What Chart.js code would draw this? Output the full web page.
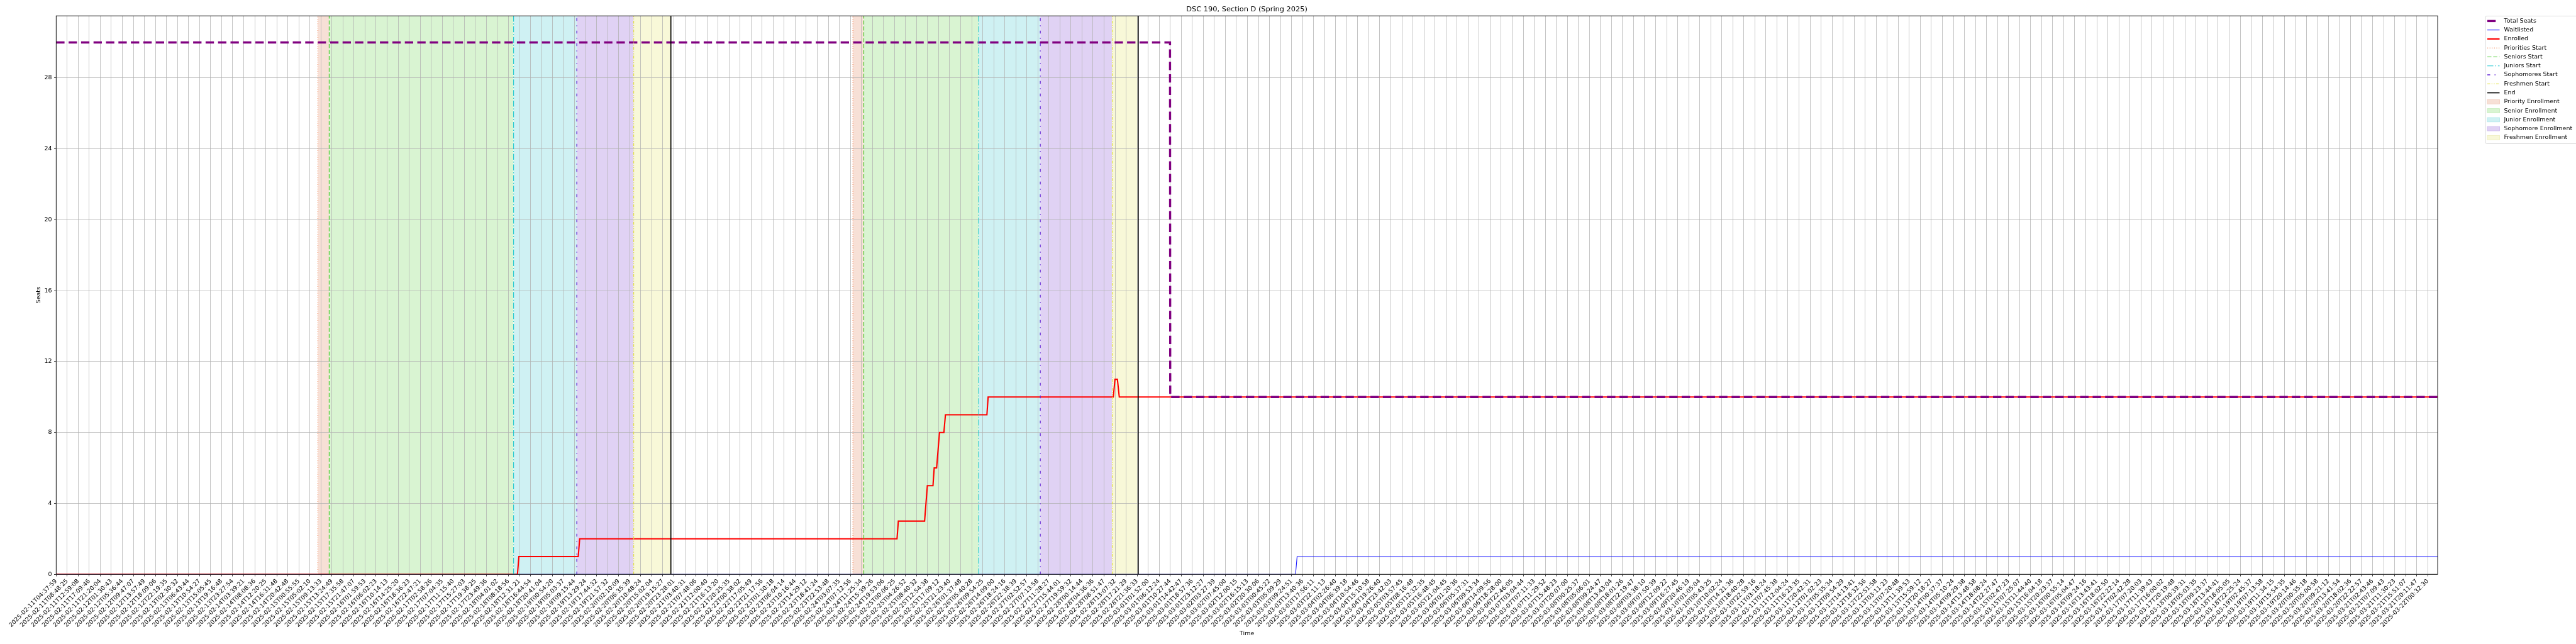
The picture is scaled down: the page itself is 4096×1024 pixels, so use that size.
<!DOCTYPE html>
<html>
<head>
<meta charset="utf-8">
<title>DSC 190, Section D (Spring 2025)</title>
<script src="https://cdn.jsdelivr.net/npm/chart.js@4.4.1/dist/chart.umd.min.js"></script>
<style>
  html, body { margin: 0; padding: 0; background: #fff; }
  #wrap { width: 4096px; height: 1024px; }
</style>
</head>
<body>
<div id="wrap"><canvas id="seatChart" width="4096" height="1024"></canvas></div>
<script>
// ------------------------------------------------------- //
// Data (x = position on the sample index, 1 unit = 1 tick)
// ------------------------------------------------------ //
var tickLabels = [
  "2025-02-11T04:37:59", "2025-02-11T08:48:25", "2025-02-11T12:59:08", "2025-02-11T17:09:46", "2025-02-11T21:20:04", "2025-02-12T01:30:43",
  "2025-02-12T05:36:44", "2025-02-12T09:47:07", "2025-02-12T13:57:49", "2025-02-12T18:09:06", "2025-02-12T22:19:35", "2025-02-13T02:30:32",
  "2025-02-13T06:43:44", "2025-02-13T10:54:27", "2025-02-13T15:05:45", "2025-02-13T19:16:48", "2025-02-13T23:27:54", "2025-02-14T03:39:21",
  "2025-02-14T08:08:36", "2025-02-14T12:20:25", "2025-02-14T16:31:48", "2025-02-14T20:42:48", "2025-02-15T00:55:55", "2025-02-15T05:02:10",
  "2025-02-15T09:13:33", "2025-02-15T13:24:49", "2025-02-15T17:35:58", "2025-02-15T21:47:07", "2025-02-16T01:59:53", "2025-02-16T06:02:23",
  "2025-02-16T10:14:13", "2025-02-16T14:25:20", "2025-02-16T18:36:23", "2025-02-16T22:47:21", "2025-02-17T02:58:26", "2025-02-17T07:04:35",
  "2025-02-17T11:15:40", "2025-02-17T15:27:03", "2025-02-17T19:38:25", "2025-02-17T23:49:36", "2025-02-18T04:01:02", "2025-02-18T08:18:56",
  "2025-02-18T12:31:21", "2025-02-18T16:44:54", "2025-02-18T20:41:04", "2025-02-19T00:54:20", "2025-02-19T05:03:37", "2025-02-19T09:15:44",
  "2025-02-19T13:29:24", "2025-02-19T17:44:32", "2025-02-19T21:57:32", "2025-02-20T02:10:09", "2025-02-20T06:35:39", "2025-02-20T10:48:24",
  "2025-02-20T15:02:04", "2025-02-20T19:15:27", "2025-02-20T23:28:01", "2025-02-21T03:40:31", "2025-02-21T07:48:06", "2025-02-21T12:00:40",
  "2025-02-21T16:13:20", "2025-02-21T20:25:35", "2025-02-22T00:38:02", "2025-02-22T17:05:49", "2025-02-22T21:17:56", "2025-02-23T01:30:18",
  "2025-02-23T06:04:14", "2025-02-23T10:16:44", "2025-02-23T14:29:12", "2025-02-23T18:41:24", "2025-02-23T22:53:48", "2025-02-24T03:07:35",
  "2025-02-24T07:12:56", "2025-02-24T11:25:34", "2025-02-24T15:39:26", "2025-02-24T19:53:06", "2025-02-25T00:06:25", "2025-02-25T04:26:52",
  "2025-02-25T08:40:32", "2025-02-25T12:54:38", "2025-02-25T17:09:12", "2025-02-25T21:23:40", "2025-02-26T01:37:48", "2025-02-26T05:40:28",
  "2025-02-26T09:54:25", "2025-02-26T14:09:00", "2025-02-26T18:24:16", "2025-02-26T22:38:39", "2025-02-27T02:52:57", "2025-02-27T07:13:58",
  "2025-02-27T11:28:27", "2025-02-27T15:44:01", "2025-02-27T19:59:32", "2025-02-28T00:14:44", "2025-02-28T04:36:36", "2025-02-28T08:51:47",
  "2025-02-28T13:07:32", "2025-02-28T17:21:29", "2025-02-28T21:36:33", "2025-03-01T01:52:00", "2025-03-01T06:12:24", "2025-03-01T10:27:44",
  "2025-03-01T14:42:47", "2025-03-01T18:57:36", "2025-03-01T23:12:27", "2025-03-02T03:27:39", "2025-03-02T07:45:00", "2025-03-02T12:00:15",
  "2025-03-02T16:15:13", "2025-03-02T20:30:06", "2025-03-03T00:45:22", "2025-03-03T05:09:29", "2025-03-03T09:24:51", "2025-03-03T13:40:36",
  "2025-03-03T17:56:11", "2025-03-03T22:11:13", "2025-03-04T02:26:40", "2025-03-04T06:39:18", "2025-03-04T10:54:46", "2025-03-04T15:10:58",
  "2025-03-04T19:26:40", "2025-03-04T23:42:03", "2025-03-05T03:57:45", "2025-03-05T08:16:48", "2025-03-05T12:32:35", "2025-03-05T16:48:45",
  "2025-03-05T21:04:45", "2025-03-06T01:20:36", "2025-03-06T05:37:31", "2025-03-06T09:53:34", "2025-03-06T14:09:56", "2025-03-06T18:28:00",
  "2025-03-06T22:46:05", "2025-03-07T03:04:44", "2025-03-07T07:11:33", "2025-03-07T11:29:52", "2025-03-07T15:48:23", "2025-03-07T20:07:00",
  "2025-03-08T00:25:37", "2025-03-08T05:06:01", "2025-03-08T09:24:47", "2025-03-08T13:43:04", "2025-03-08T18:01:26", "2025-03-08T22:19:47",
  "2025-03-09T03:38:10", "2025-03-09T07:50:39", "2025-03-09T12:09:22", "2025-03-09T16:27:45", "2025-03-09T20:46:19", "2025-03-10T01:05:04",
  "2025-03-10T05:43:25", "2025-03-10T10:02:24", "2025-03-10T14:21:36", "2025-03-10T18:40:28", "2025-03-10T22:59:16", "2025-03-11T03:18:24",
  "2025-03-11T07:45:38", "2025-03-11T12:04:24", "2025-03-11T16:23:35", "2025-03-11T20:42:31", "2025-03-12T01:02:23", "2025-03-12T05:35:34",
  "2025-03-12T09:54:29", "2025-03-12T14:13:41", "2025-03-12T18:32:56", "2025-03-12T22:51:58", "2025-03-13T03:11:23", "2025-03-13T07:20:48",
  "2025-03-13T11:39:53", "2025-03-13T15:59:12", "2025-03-13T20:18:27", "2025-03-14T00:37:37", "2025-03-14T05:10:24", "2025-03-14T09:29:38",
  "2025-03-14T13:48:58", "2025-03-14T18:08:24", "2025-03-14T22:27:47", "2025-03-15T02:47:23", "2025-03-15T07:25:07", "2025-03-15T11:44:40",
  "2025-03-15T16:04:18", "2025-03-15T20:23:37", "2025-03-16T00:55:14", "2025-03-16T05:04:47", "2025-03-16T09:24:16", "2025-03-16T13:43:41",
  "2025-03-16T18:02:50", "2025-03-16T22:22:14", "2025-03-17T02:42:28", "2025-03-17T07:20:03", "2025-03-17T11:39:43", "2025-03-17T16:00:02",
  "2025-03-17T20:19:48", "2025-03-18T00:39:31", "2025-03-18T05:03:35", "2025-03-18T09:23:37", "2025-03-18T13:44:41", "2025-03-18T18:05:05",
  "2025-03-18T22:25:24", "2025-03-19T02:45:37", "2025-03-19T07:13:58", "2025-03-19T11:34:15", "2025-03-19T15:54:35", "2025-03-19T20:14:46",
  "2025-03-20T00:35:18", "2025-03-20T05:00:58", "2025-03-20T09:21:12", "2025-03-20T13:41:54", "2025-03-20T18:02:36", "2025-03-20T22:22:57",
  "2025-03-21T02:43:46", "2025-03-21T07:09:43", "2025-03-21T11:30:23", "2025-03-21T15:51:07", "2025-03-21T20:11:47", "2025-03-22T00:32:30"
];
var yTicks = [0, 4, 8, 12, 16, 20, 24, 28];
var xMax = 215.9;
var yMax = 31.5;

var seatsX = [0, 100.98, 101.0, 215.9];
var seatsY = [30, 30, 10, 10];

var waitX = [0, 112.36, 112.5, 215.9];
var waitY = [0, 0, 1, 1];

var enrolledX = [0, 41.82, 41.95, 47.33, 47.46, 76.23, 76.35, 78.73, 78.98, 79.49, 79.60, 79.82, 80.08, 80.48, 80.62, 84.38, 84.49, 95.84, 95.99, 96.21, 96.38, 215.9];
var enrolledY = [0, 0, 1, 1, 2, 2, 3, 3, 5, 5, 6, 6, 8, 8, 9, 9, 10, 10, 11, 11, 10, 10];

// enrollment windows, two passes
var priorityStart = [23.73, 72.23];
var seniorStart = [24.75, 73.22];
var juniorStart = [41.47, 83.63];
var sophomoreStart = [47.20, 89.22];
var freshmenStart = [52.36, 95.74];
var endTime = [55.73, 98.10];

// ------------------------------------------------------- //
// Styles
// ------------------------------------------------------ //
var FONT = '"DejaVu Sans", "Liberation Sans", sans-serif';
var col = {
    seats: '#800080', wait: '#1a1aff', enrolled: '#ff0000',
    priority: '#f0703a', senior: '#3cc81e', junior: '#1cc6cf', sophomore: '#6326d6', freshmen: '#e2e03a', end: '#000000',
    priorityFill: '#f7e0d6', seniorFill: '#d9f4d2', juniorFill: '#cff1f3', sophomoreFill: '#e0d2f4', freshmenFill: '#f8f8d8'
};
var dash = {
    seats: [13.3, 6.5],
    priority: [1.2, 2.4],
    senior: [6.5, 2.9],
    junior: [9.5, 2.9, 1.6, 2.9],
    sophomore: [4.5, 7, 1.5, 7],
    freshmen: [4.5, 2.2, 1.4, 2.2, 1.4, 2.2]
};

function pts(xs, ys) {
    return xs.map(function (x, i) { return {x: x, y: ys[i]}; });
}

var datasets = [];

// shaded windows (drawn by the filler before the grid)
function addSpan(starts, ends, color) {
    for (var i = 0; i < starts.length; i++) {
        datasets.push({
            data: [{x: starts[i], y: yMax}, {x: ends[i], y: yMax}],
            fill: 'origin', backgroundColor: color, borderWidth: 0, pointRadius: 0, order: 50
        });
    }
}
addSpan(priorityStart, seniorStart, col.priorityFill);
addSpan(seniorStart, juniorStart, col.seniorFill);
addSpan(juniorStart, sophomoreStart, col.juniorFill);
addSpan(sophomoreStart, freshmenStart, col.sophomoreFill);
addSpan(freshmenStart, endTime, col.freshmenFill);

datasets.push({data: pts(seatsX, seatsY), borderColor: col.seats, borderWidth: 3.4, borderDash: dash.seats, pointRadius: 0, fill: false, order: 4});
datasets.push({data: pts(waitX, waitY), borderColor: col.wait, borderWidth: 1.1, pointRadius: 0, fill: false, order: 6});
datasets.push({data: pts(enrolledX, enrolledY), borderColor: col.enrolled, borderWidth: 2.1, pointRadius: 0, fill: false, order: 5});

// vertical markers
function addMarkers(xs, color, width, d) {
    xs.forEach(function (x) {
        datasets.push({
            data: [{x: x, y: 0}, {x: x, y: yMax}],
            borderColor: color, borderWidth: width, borderDash: d || [], pointRadius: 0, fill: false, order: 2
        });
    });
}
addMarkers(priorityStart, col.priority, 1.1, dash.priority);
addMarkers(seniorStart, col.senior, 1.1, dash.senior);
addMarkers(juniorStart, col.junior, 1.1, dash.junior);
addMarkers(sophomoreStart, col.sophomore, 1.3, dash.sophomore);
addMarkers(freshmenStart, col.freshmen, 1.1, dash.freshmen);
addMarkers(endTime, col.end, 1.6, null);

var legendItems = [
    {label: 'Total Seats', color: col.seats, width: 3.4, dash: dash.seats},
    {label: 'Waitlisted', color: col.wait, width: 1.1},
    {label: 'Enrolled', color: col.enrolled, width: 2.1},
    {label: 'Priorities Start', color: col.priority, width: 1.1, dash: dash.priority},
    {label: 'Seniors Start', color: col.senior, width: 1.1, dash: dash.senior},
    {label: 'Juniors Start', color: col.junior, width: 1.1, dash: dash.junior},
    {label: 'Sophomores Start', color: col.sophomore, width: 1.3, dash: dash.sophomore},
    {label: 'Freshmen Start', color: col.freshmen, width: 1.1, dash: dash.freshmen},
    {label: 'End', color: col.end, width: 1.6},
    {label: 'Priority Enrollment', patch: col.priorityFill, edge: '#f2cdbd'},
    {label: 'Senior Enrollment', patch: col.seniorFill, edge: '#c3ecb9'},
    {label: 'Junior Enrollment', patch: col.juniorFill, edge: '#b3e8eb'},
    {label: 'Sophomore Enrollment', patch: col.sophomoreFill, edge: '#cdb9ee'},
    {label: 'Freshmen Enrollment', patch: col.freshmenFill, edge: '#eeeebd'}
];

// frame round the plot
var framePlugin = {
    id: 'frame',
    afterDatasetsDraw: function (chart) {
        var a = chart.chartArea, ctx = chart.ctx;
        ctx.save();
        ctx.strokeStyle = '#000';
        ctx.lineWidth = 0.9;
        ctx.strokeRect(a.left, a.top, a.right - a.left, a.bottom - a.top);
        ctx.restore();
    }
};

// matplotlib-like legend outside the plot
var legendPlugin = {
    id: 'sideLegend',
    afterDraw: function (chart) {
        var ctx = chart.ctx;
        var x0 = 3952, y0 = 25.5, rowH = 14.27, firstY = 33.4;
        var hx0 = 3955, hx1 = 3974.5, tx = 3981.5;
        ctx.save();
        ctx.fillStyle = 'rgba(255,255,255,0.8)';
        ctx.strokeStyle = '#d0d0d0';
        ctx.lineWidth = 0.8;
        ctx.beginPath();
        ctx.roundRect(x0, y0, 200, 203, 2.5);
        ctx.fill();
        ctx.stroke();
        ctx.font = '9.47px ' + FONT;
        ctx.textBaseline = 'middle';
        legendItems.forEach(function (it, i) {
            var y = firstY + i * rowH;
            if (it.patch) {
                ctx.setLineDash([]);
                ctx.fillStyle = it.patch;
                ctx.strokeStyle = it.edge;
                ctx.lineWidth = 0.8;
                ctx.fillRect(hx0, y - 3.4, hx1 - hx0, 6.8);
                ctx.strokeRect(hx0, y - 3.4, hx1 - hx0, 6.8);
            } else {
                ctx.strokeStyle = it.color;
                ctx.lineWidth = it.width;
                ctx.setLineDash(it.dash || []);
                ctx.beginPath();
                ctx.moveTo(hx0, y);
                ctx.lineTo(hx1, y);
                ctx.stroke();
            }
            ctx.setLineDash([]);
            ctx.fillStyle = '#000';
            ctx.fillText(it.label, tx, y);
        });
        ctx.restore();
    }
};

Chart.defaults.font.family = FONT;
Chart.defaults.font.size = 9.47;
Chart.defaults.color = '#000';

var ctx = document.getElementById('seatChart').getContext('2d');
var seatChart = new Chart(ctx, {
    type: 'line',
    data: {datasets: datasets},
    options: {
        responsive: false,
        animation: false,
        events: [],
        layout: {padding: {left: 0, right: 220, top: 0, bottom: 0}},
        elements: {line: {tension: 0, borderCapStyle: 'butt'}},
        plugins: {
            legend: {display: false},
            tooltip: {enabled: false},
            filler: {drawTime: 'beforeDraw'},
            title: {
                display: true,
                fullSize: false,
                text: 'DSC 190, Section D (Spring 2025)',
                color: '#000',
                font: {size: 11.37, weight: 'normal', family: FONT},
                padding: {top: 8.7, bottom: 2.86}
            }
        },
        scales: {
            x: {
                type: 'linear',
                min: 0,
                max: xMax,
                afterBuildTicks: function (scale) {
                    scale.ticks = tickLabels.map(function (t, i) { return {value: i}; });
                },
                afterFit: function (scale) { scale.height = 1024 - 913.2; },
                ticks: {
                    autoSkip: false,
                    minRotation: 45,
                    maxRotation: 45,
                    padding: 2.2,
                    font: {size: 9.47},
                    callback: function (v) { return tickLabels[Math.round(v)]; }
                },
                grid: {color: '#b0b0b0', lineWidth: 0.75, tickColor: '#000', tickLength: 3.3, tickWidth: 0.75},
                border: {display: false},
                title: {display: true, text: 'Time', font: {size: 9.47}, padding: {top: 0, bottom: 10.3}}
            },
            y: {
                type: 'linear',
                min: 0,
                max: yMax,
                afterBuildTicks: function (scale) {
                    scale.ticks = yTicks.map(function (v) { return {value: v}; });
                },
                afterFit: function (scale) { scale.width = 89.3; },
                ticks: {padding: 3.4, font: {size: 9.47}},
                grid: {color: '#b0b0b0', lineWidth: 0.75, tickColor: '#000', tickLength: 3.3, tickWidth: 0.75},
                border: {display: false},
                title: {display: true, text: 'Seats', font: {size: 9.47}, padding: {top: 55.7, bottom: 0}}
            }
        }
    },
    plugins: [framePlugin, legendPlugin]
});
</script>
</body>
</html>
